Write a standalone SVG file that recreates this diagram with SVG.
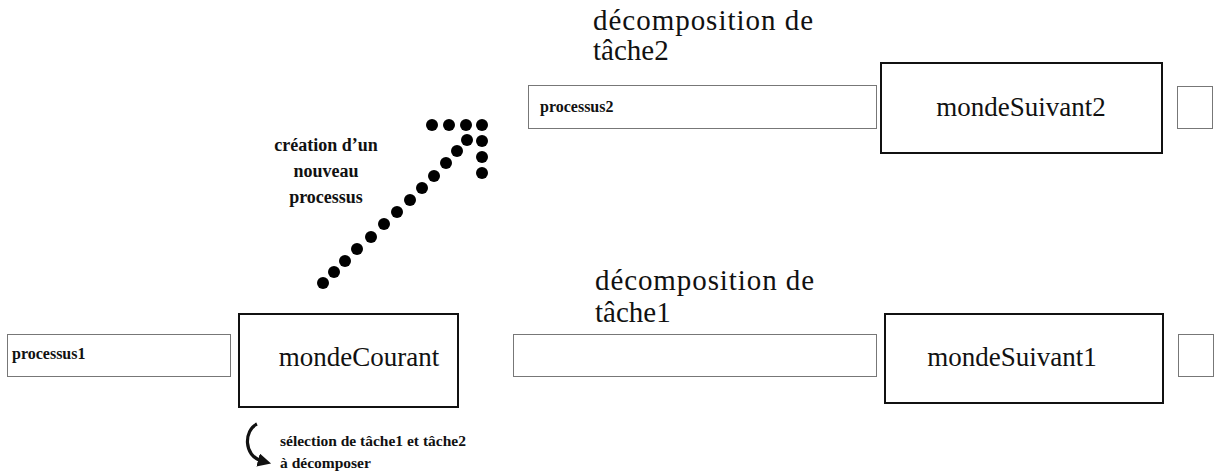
<svg xmlns="http://www.w3.org/2000/svg" width="1220" height="476" viewBox="0 0 1220 476">
<defs>
<style>
.bg{fill:#fff}
.thin{fill:#fff;stroke:#777;stroke-width:1}
.thick{fill:#fff;stroke:#111;stroke-width:2}
.big{font-family:"Liberation Serif",serif;font-size:27px;fill:#111}
.dec{font-family:"Liberation Serif",serif;font-size:29px;fill:#111}
.small{font-family:"Liberation Serif",serif;font-size:16px;font-weight:bold;fill:#111}
.lbl{font-family:"Liberation Serif",serif;font-size:18px;font-weight:bold;fill:#111}
.sel{font-family:"Liberation Serif",serif;font-size:15.5px;font-weight:bold;fill:#111}
.dot{fill:#000}
</style>
<marker id="ah" viewBox="0 0 10 10" refX="3" refY="5" markerWidth="4.2" markerHeight="4.2" orient="auto"><path d="M0,0 L10,5 L0,10 z" fill="#111"/></marker>
</defs>
<rect class="bg" x="0" y="0" width="1220" height="476"/>

<g id="processus1">
<rect class="thin" x="7.5" y="334.5" width="223" height="42"/>
<text class="small" x="12" y="359">processus1</text>
</g>
<g id="mondeCourant">
<rect class="thick" x="239" y="314" width="219" height="93"/>
<text class="big" x="359" y="366" text-anchor="middle" font-size="25.5">mondeCourant</text>
</g>
<g id="tache1">
<rect class="thin" x="513.5" y="334.5" width="363" height="42"/>
<text class="dec" x="595" y="290" textLength="219" lengthAdjust="spacing">décomposition de</text>
<text class="dec" x="595" y="322">tâche1</text>
</g>
<g id="mondeSuivant1">
<rect class="thick" x="885" y="314" width="278" height="89"/>
<text class="big" x="1012" y="366" text-anchor="middle" font-size="27.5">mondeSuivant1</text>
</g>
<g id="box1">
<rect class="thin" x="1178.5" y="334.5" width="35" height="42"/>
</g>

<g id="processus2">
<rect class="thin" x="528.5" y="85.5" width="348" height="43"/>
<text class="small" x="540" y="112" font-size="15.5">processus2</text>
<text class="dec" x="593" y="30" textLength="220" lengthAdjust="spacing">décomposition de</text>
<text class="dec" x="593" y="60">tâche2</text>
</g>
<g id="mondeSuivant2">
<rect class="thick" x="881" y="63" width="281" height="90"/>
<text class="big" x="1021" y="116" text-anchor="middle">mondeSuivant2</text>
</g>
<g id="box2">
<rect class="thin" x="1177.5" y="86.5" width="35" height="42"/>
</g>

<g id="connectors">
<g class="dot">
<circle cx="323" cy="283" r="6"/>
<circle cx="334" cy="272" r="6"/>
<circle cx="345" cy="261" r="6"/>
<circle cx="357" cy="249" r="6"/>
<circle cx="371" cy="237" r="6"/>
<circle cx="384" cy="224" r="6"/>
<circle cx="397" cy="212" r="6"/>
<circle cx="410" cy="200" r="6"/>
<circle cx="422" cy="188" r="6"/>
<circle cx="434" cy="176" r="6"/>
<circle cx="446" cy="163" r="6"/>
<circle cx="457" cy="151" r="6"/>
<circle cx="467" cy="140" r="6"/>
<circle cx="432" cy="125" r="6"/>
<circle cx="449" cy="125" r="6"/>
<circle cx="466" cy="125" r="6"/>
<circle cx="482" cy="125" r="6"/>
<circle cx="482" cy="141" r="6"/>
<circle cx="482" cy="157" r="6"/>
<circle cx="482" cy="173" r="6"/>
</g>
<path d="M257,424 C244,430 243,456 262,461" fill="none" stroke="#111" stroke-width="3.2" marker-end="url(#ah)"/>
</g>

<g id="labels">
<text class="lbl" x="326" y="151" text-anchor="middle">création d’un</text>
<text class="lbl" x="326" y="177" text-anchor="middle">nouveau</text>
<text class="lbl" x="326" y="203" text-anchor="middle">processus</text>
<text class="sel" x="280" y="446">sélection de tâche1 et tâche2</text>
<text class="sel" x="280" y="468">à décomposer</text>
</g>
</svg>
